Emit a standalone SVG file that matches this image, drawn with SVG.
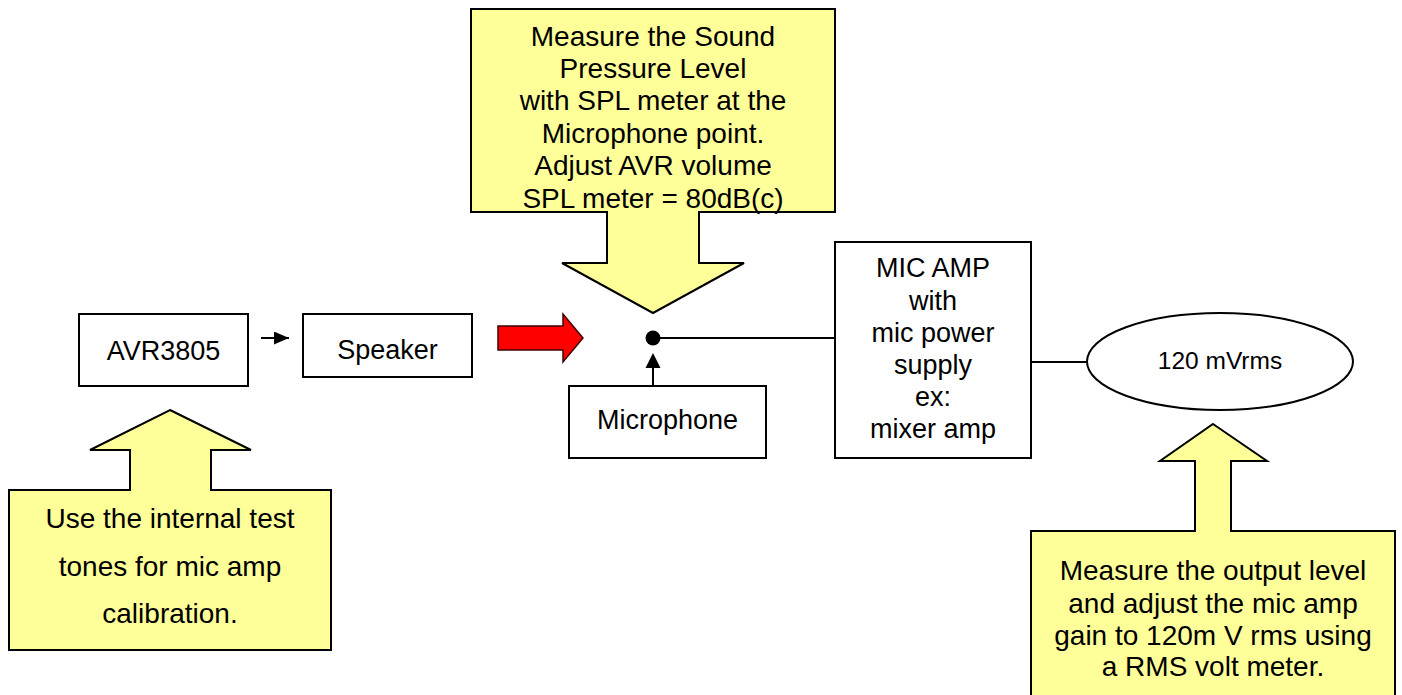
<svg xmlns="http://www.w3.org/2000/svg" width="1402" height="695" viewBox="0 0 1402 695">
<style>
  .box{fill:#fff;stroke:#000;stroke-width:2}
  .call{fill:#ffff99;stroke:#000;stroke-width:2;stroke-linejoin:miter}
  .t{font-family:"Liberation Sans",Arial,sans-serif;font-size:27px;fill:#000;text-anchor:middle}
  .tc{font-family:"Liberation Sans",Arial,sans-serif;font-size:28px;fill:#000;text-anchor:middle}
  .ln{stroke:#000;stroke-width:2;fill:none}
</style>
<defs>
  <marker id="ah" markerWidth="15" markerHeight="13" refX="15" refY="6.5" orient="auto" markerUnits="userSpaceOnUse" viewBox="0 0 15 13">
    <path d="M0,0 L15,6.5 L0,13 Z" fill="#000"/>
  </marker>
</defs>
<rect width="1402" height="695" fill="#fff"/>

<g id="callout-top">
  <path class="call" d="M471,9 H835 V212 H699 V263 H744 L653,313 L562,263 H607 V212 H471 Z"/>
  <text class="tc" x="653" y="46">Measure the Sound</text>
  <text class="tc" x="653" y="78">Pressure Level</text>
  <text class="tc" x="653" y="110">with SPL meter at the</text>
  <text class="tc" x="653" y="143">Microphone point.</text>
  <text class="tc" x="653" y="175">Adjust AVR volume</text>
  <text class="tc" x="653" y="208">SPL meter = 80dB(c)</text>
</g>

<g id="callout-left">
  <path class="call" d="M170,410 L251,450 H211 V490 H331 V650 H9 V490 H130 V450 H90 Z"/>
  <text class="tc" x="170" y="528">Use the internal test</text>
  <text class="tc" x="170" y="576">tones for mic amp</text>
  <text class="tc" x="170" y="623">calibration.</text>
</g>

<g id="callout-right">
  <path class="call" d="M1213,424 L1267,461 H1231 V531 H1395 V700 H1031 V531 H1195 V461 H1160 Z"/>
  <text class="tc" x="1213" y="580">Measure the output level</text>
  <text class="tc" x="1213" y="613">and adjust the mic amp</text>
  <text class="tc" x="1213" y="645">gain to 120m V rms using</text>
  <text class="tc" x="1213" y="676">a RMS volt meter.</text>
</g>

<g id="avr3805">
  <rect class="box" x="79" y="314" width="169" height="72"/>
  <text class="t" x="163.5" y="360">AVR3805</text>
</g>

<g id="speaker">
  <rect class="box" x="303" y="314" width="169" height="63"/>
  <text class="t" x="387.5" y="359">Speaker</text>
</g>

<g id="sound-arrow">
  <path d="M498,326 H563 V314 L583,338 L563,362 V350 H498 Z" fill="#ff0000" stroke="#400000" stroke-width="1.5"/>
</g>

<g id="microphone">
  <rect class="box" x="569" y="386" width="197" height="72"/>
  <text class="t" x="667.5" y="429">Microphone</text>
</g>

<g id="mic-amp">
  <rect class="box" x="835" y="242" width="196" height="216"/>
  <text class="t" x="933" y="277">MIC AMP</text>
  <text class="t" x="933" y="310">with</text>
  <text class="t" x="933" y="342">mic power</text>
  <text class="t" x="933" y="374">supply</text>
  <text class="t" x="933" y="406">ex:</text>
  <text class="t" x="933" y="438">mixer amp</text>
</g>

<g id="meter">
  <ellipse class="box" cx="1220" cy="361.5" rx="133" ry="48.5"/>
  <text class="t" x="1220" y="369" style="font-size:24.5px">120 mVrms</text>
</g>

<g id="connectors">
  <line class="ln" x1="261" y1="338" x2="289" y2="338" marker-end="url(#ah)"/>
  <circle cx="653" cy="338" r="7.5" fill="#000"/>
  <line class="ln" x1="653" y1="338" x2="835" y2="338"/>
  <line class="ln" x1="653" y1="386" x2="653" y2="368"/>
  <path d="M653,353 L660.5,368 L645.5,368 Z" fill="#000"/>
  <line class="ln" x1="1031" y1="362" x2="1087" y2="362"/>
</g>
</svg>
